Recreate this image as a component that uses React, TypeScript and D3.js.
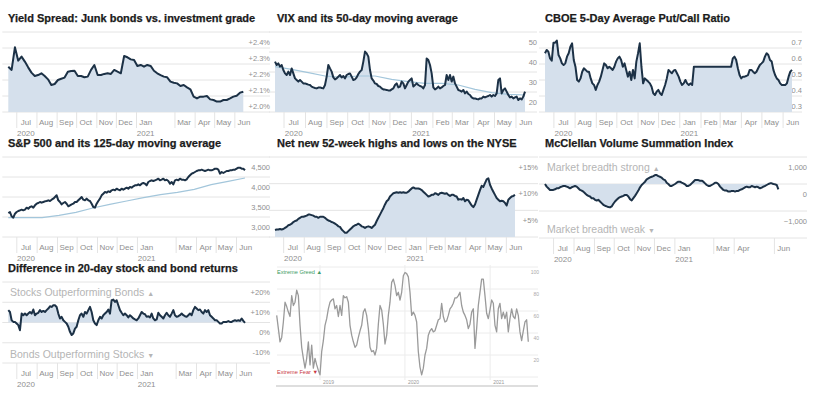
import * as d3 from 'd3';

// date span shared by the seven small indicator charts
const START = new Date(2020, 5, 18);
const END = new Date(2021, 5, 14);
const MCCLELLAN_END = new Date(2021, 5, 7);
const FG_START = new Date(2018, 5, 29);
const FG_END = new Date(2021, 5, 14);

const monthNames = ['Jul', 'Aug', 'Sep', 'Oct', 'Nov', 'Dec', 'Jan', 'Feb', 'Mar', 'Apr', 'May', 'Jun'];
const fgYears = [2019, 2020, 2021];
const fgTicks = [20, 40, 60, 80, 100];

const spreadValues = [2.183, 2.163, 2.304, 2.221, 2.246, 2.215, 2.179, 2.146, 2.125, 2.131, 2.142, 2.125, 2.104, 2.069, 2.075, 2.1, 2.108, 2.115, 2.152, 2.156, 2.158, 2.125, 2.125, 2.117, 2.121, 2.163, 2.194, 2.131, 2.131, 2.138, 2.142, 2.138, 2.163, 2.152, 2.142, 2.25, 2.242, 2.229, 2.225, 2.188, 2.194, 2.183, 2.194, 2.188, 2.158, 2.142, 2.131, 2.121, 2.117, 2.09, 2.083, 2.079, 2.063, 2.069, 2.054, 2.042, 1.996, 1.985, 1.996, 1.996, 2.0, 1.979, 1.975, 1.965, 1.965, 1.975, 1.975, 1.985, 1.996, 2.002, 2.021, 2.027];

const vixValues = [35.2, 33.5, 34.3, 32.7, 33.5, 31.0, 29.3, 28.5, 30.2, 28.5, 31.8, 29.3, 26.8, 26.0, 25.2, 26.0, 25.2, 24.3, 24.3, 24.0, 23.7, 23.5, 22.7, 22.3, 22.0, 21.8, 22.2, 22.3, 22.0, 21.8, 23.5, 27.7, 33.5, 31.8, 30.2, 27.3, 26.3, 26.8, 27.7, 28.5, 27.3, 28.0, 26.8, 28.5, 29.0, 29.3, 27.7, 26.0, 26.3, 27.3, 29.0, 30.2, 31.0, 35.2, 40.2, 39.3, 37.7, 31.0, 26.8, 25.7, 24.3, 24.0, 23.0, 22.7, 21.8, 21.3, 21.2, 21.0, 20.8, 20.7, 21.3, 21.8, 23.5, 24.3, 22.3, 22.7, 25.2, 24.3, 21.8, 23.5, 25.2, 26.0, 26.8, 22.7, 23.5, 24.3, 23.5, 23.0, 22.7, 21.8, 23.5, 36.8, 36.0, 33.5, 29.3, 22.3, 21.3, 21.8, 22.7, 21.8, 22.3, 23.0, 23.5, 28.5, 26.0, 28.5, 25.2, 27.7, 24.3, 22.7, 21.0, 20.7, 20.2, 21.0, 19.3, 20.2, 19.0, 18.5, 17.3, 16.8, 16.8, 16.5, 16.3, 16.8, 16.8, 17.7, 17.3, 17.7, 18.0, 18.5, 17.7, 18.5, 18.0, 19.3, 26.0, 26.8, 19.3, 21.0, 21.8, 20.2, 18.5, 17.3, 17.7, 16.8, 17.3, 17.7, 16.0, 16.8, 16.3, 17.7, 20.2];
const vixAverage = [32.7, 31.3, 29.7, 28.0, 27.3, 28.0, 28.0, 26.3, 25.2, 24.3, 24.3, 23.5, 21.3, 19.7, 18.8, 18.5];

const putCallValues = [0.567, 0.588, 0.577, 0.535, 0.521, 0.633, 0.633, 0.646, 0.556, 0.535, 0.504, 0.494, 0.504, 0.546, 0.567, 0.608, 0.629, 0.525, 0.483, 0.4, 0.39, 0.41, 0.452, 0.473, 0.463, 0.452, 0.452, 0.41, 0.379, 0.369, 0.338, 0.369, 0.39, 0.421, 0.463, 0.504, 0.494, 0.473, 0.483, 0.473, 0.463, 0.483, 0.515, 0.535, 0.546, 0.525, 0.483, 0.504, 0.463, 0.421, 0.452, 0.4, 0.463, 0.41, 0.515, 0.567, 0.629, 0.483, 0.379, 0.41, 0.4, 0.39, 0.379, 0.358, 0.317, 0.306, 0.327, 0.338, 0.317, 0.306, 0.338, 0.369, 0.41, 0.463, 0.452, 0.442, 0.458, 0.463, 0.442, 0.421, 0.39, 0.369, 0.379, 0.4, 0.379, 0.369, 0.379, 0.369, 0.483, 0.483, 0.483, 0.483, 0.483, 0.483, 0.483, 0.483, 0.483, 0.483, 0.483, 0.483, 0.483, 0.483, 0.483, 0.483, 0.483, 0.483, 0.483, 0.483, 0.483, 0.483, 0.483, 0.535, 0.546, 0.525, 0.473, 0.431, 0.41, 0.421, 0.421, 0.425, 0.431, 0.463, 0.463, 0.452, 0.442, 0.452, 0.473, 0.494, 0.504, 0.515, 0.546, 0.567, 0.556, 0.525, 0.515, 0.463, 0.431, 0.41, 0.4, 0.379, 0.369, 0.369, 0.369, 0.379, 0.421, 0.452, 0.463];

const spxValues = [3100, 3125, 3017, 2983, 3083, 3125, 3150, 3167, 3183, 3167, 3183, 3233, 3208, 3250, 3267, 3233, 3292, 3333, 3350, 3375, 3358, 3375, 3392, 3400, 3417, 3400, 3433, 3458, 3500, 3542, 3417, 3375, 3317, 3350, 3375, 3333, 3267, 3292, 3317, 3333, 3375, 3375, 3417, 3458, 3500, 3433, 3417, 3458, 3417, 3400, 3333, 3250, 3233, 3333, 3400, 3458, 3542, 3583, 3625, 3608, 3642, 3625, 3667, 3683, 3667, 3708, 3683, 3667, 3708, 3683, 3708, 3733, 3708, 3750, 3733, 3767, 3792, 3792, 3817, 3792, 3833, 3850, 3833, 3792, 3875, 3900, 3917, 3900, 3917, 3933, 3958, 3917, 3933, 3958, 3917, 3933, 3900, 3833, 3875, 3817, 3917, 3933, 3917, 3958, 3933, 3933, 3917, 3942, 4000, 4042, 4083, 4100, 4125, 4150, 4167, 4167, 4183, 4167, 4150, 4167, 4183, 4167, 4167, 4183, 4208, 4208, 4183, 4083, 4125, 4100, 4125, 4150, 4150, 4167, 4167, 4183, 4183, 4208, 4233, 4233, 4208, 4208, 4167];
const spxAverage = [2983, 2983, 2983, 3042, 3117, 3225, 3317, 3400, 3483, 3558, 3617, 3692, 3808, 3892, 3975];

const highLowValues = [1.3, 1.4, 1.4, 1.5, 1.4, 1.5, 1.7, 1.9, 2.2, 2.3, 2.5, 2.8, 3.0, 3.1, 3.4, 3.6, 3.8, 3.8, 3.9, 4.0, 4.2, 4.2, 4.1, 4.0, 3.8, 3.8, 3.6, 3.8, 3.8, 3.8, 3.6, 3.3, 3.1, 3.0, 2.8, 2.7, 2.5, 2.3, 2.0, 1.9, 1.4, 1.1, 0.8, 0.8, 1.1, 1.4, 1.7, 2.0, 2.2, 2.3, 2.5, 2.3, 2.0, 1.9, 1.7, 1.9, 2.0, 1.9, 1.7, 2.0, 2.3, 3.0, 3.6, 4.2, 4.8, 5.4, 6.1, 6.7, 7.0, 7.6, 7.9, 8.2, 8.3, 8.4, 8.3, 8.4, 8.3, 8.4, 8.3, 8.3, 8.5, 8.8, 9.1, 9.3, 9.1, 9.1, 9.1, 9.0, 8.8, 8.5, 8.2, 7.9, 7.6, 7.7, 7.9, 7.9, 8.2, 8.1, 7.9, 8.2, 8.3, 8.2, 8.1, 8.2, 7.9, 7.7, 7.9, 7.9, 7.7, 7.6, 7.0, 7.1, 7.0, 7.3, 6.7, 7.0, 6.9, 6.4, 5.9, 5.6, 6.1, 7.0, 7.9, 8.8, 9.6, 9.4, 10.1, 10.8, 11.0, 9.8, 9.1, 8.5, 7.9, 7.3, 7.0, 6.7, 6.8, 6.7, 6.4, 5.9, 7.0, 7.3, 7.6, 7.7, 7.9];

const mcclellanValues = [0, -98, -159, -220, -220, -220, -195, -159, -159, -122, -98, -73, -73, -98, -122, -159, -122, -98, -73, -98, -159, -220, -244, -281, -342, -403, -439, -464, -525, -525, -586, -610, -586, -647, -708, -769, -805, -830, -854, -866, -830, -732, -647, -586, -525, -488, -464, -439, -403, -403, -464, -561, -610, -525, -439, -342, -244, -122, -37, 24, 85, 171, 207, 244, 268, 293, 329, 329, 293, 268, 232, 171, 146, 49, 0, -73, -73, -37, 0, 49, 85, 85, 49, 24, -12, -73, -73, -37, 24, 85, 146, 146, 146, 122, 122, 85, 24, -37, -73, -73, -37, 0, 49, 49, 0, -98, -159, -220, -244, -244, -281, -281, -256, -256, -281, -256, -256, -220, -195, -159, -122, -98, -122, -122, -73, -98, -122, -98, -122, -159, -134, -98, -73, -37, 0, 24, 24, 0, -12, -37, -195];

const stockBondValues = [6.1, 5.2, 1.1, 0.3, 0.3, -0.5, -1.3, -3.8, 4.4, 3.6, 4.4, 3.6, 4.4, 5.2, 4.4, 6.4, 3.6, 4.4, 4.8, 6.1, 5.2, 5.7, 5.2, 6.1, 6.9, 8.0, 7.7, 8.5, 8.5, 7.7, 4.4, 2.0, 2.8, 1.1, 0.3, -0.5, -2.1, -4.6, -6.2, -5.4, -3.0, -2.1, 1.1, 3.6, 4.4, 2.8, 5.2, 4.4, 6.1, 7.7, 5.2, 1.1, -0.5, -1.3, 1.1, 2.8, 2.0, 3.6, 4.4, 5.2, 6.4, 4.4, 11.0, 11.3, 10.2, 11.0, 8.5, 6.1, 4.8, 3.6, 4.4, 3.6, 2.5, 3.6, 2.8, 2.0, 1.5, 1.1, 2.0, 3.6, 5.2, 4.4, 4.1, 2.8, 3.1, 2.5, 4.4, 2.0, 1.1, 1.5, 4.8, 3.6, 2.8, 2.0, 3.6, 4.8, 3.6, 2.8, 4.4, 6.1, 3.6, 2.8, 3.1, 3.6, 4.4, 3.6, 3.1, 2.8, 3.6, 4.4, 3.6, 6.1, 7.7, 6.9, 6.1, 6.4, 5.2, 4.4, 6.1, 5.2, 6.1, 3.6, 2.8, 2.0, 1.1, 1.1, 0.3, -0.5, -0.5, 0.3, 0.3, 0.3, 0.7, 0.3, 0.3, 0.8, 1.1, 0.8, 1.1, 0.8, 2.0, 0.8, -0.2];

const fearGreedValues = [56, 44, 32, 36, 50, 68, 64, 59, 55, 74, 65, 68, 79, 74, 47, 27, 17, 8, 17, 32, 11, 29, 8, 17, 11, 6, 2, 23, 33, 47, 53, 62, 68, 70, 71, 62, 65, 55, 65, 56, 74, 72, 73, 68, 47, 38, 32, 27, 29, 36, 42, 47, 59, 62, 56, 44, 27, 23, 24, 20, 26, 48, 65, 61, 48, 30, 38, 56, 68, 86, 89, 83, 74, 77, 70, 77, 92, 95, 94, 91, 77, 56, 59, 56, 50, 23, 9, 2, 8, 20, 26, 38, 42, 44, 41, 42, 47, 52, 53, 67, 55, 50, 51, 56, 62, 64, 67, 72, 72, 74, 77, 65, 59, 56, 52, 44, 48, 59, 62, 26, 44, 65, 77, 89, 89, 74, 58, 53, 61, 70, 67, 47, 41, 62, 67, 53, 59, 53, 59, 41, 53, 62, 55, 53, 62, 56, 41, 33, 42, 50, 52, 32];

const SANS = '"Liberation Sans", Arial, sans-serif';
const NAVY = '#1c3146';
const FILL = '#d5e0ec';
const GRID = '#e4e4e4';
const AXIS_TEXT = '#8f8f8f';

type Pt = { date: Date; value: number };

const spread = (values: number[], start: Date, end: Date): Pt[] =>
  values.map((value, i) => ({
    date: new Date(+start + ((+end - +start) * i) / (values.length - 1)),
    value,
  }));

interface Series {
  values: number[];
  color: string;
  width: number;
  end?: Date;
}

interface PanelProps {
  title: string;
  titleX: number;
  x0: number;
  x1: number;
  top: number;
  bottom: number;
  right: number;
  domain: [number, number];
  ticks: number[];
  format: (v: number) => string;
  series: Series[];
  fill: 'bottom' | 'zero' | null;
  hidden: string[];
  notes?: [string, string];
  noteX?: number;
}

const Panel = (p: PanelProps) => {
  const x = d3.scaleTime().domain([START, END]).range([p.x0, p.x1]);
  const y = d3.scaleLinear().domain(p.domain).range([p.bottom, p.top]);
  const line = d3.line<Pt>().x(d => x(d.date)).y(d => y(d.value));
  const pts = p.series.map(s => spread(s.values, START, s.end ?? END));
  const base = p.fill === 'zero' ? y(0) : p.bottom;
  const area = d3.area<Pt>().x(d => x(d.date)).y0(base).y1(d => y(d.value));

  const months = d3.timeMonth.range(new Date(2020, 6, 1), new Date(2021, 6, 1));
  const gx0 = p.x0 - 6;

  return (
    <g>
      <text x={p.titleX} y={p.top - 10} fontFamily={SANS} fontSize={11} fontWeight={700}
        fill="#1b1b1b" stroke="#1b1b1b" strokeWidth={0.25}>
        {p.title}
      </text>

      {/* grid + right labels (label sits under its line) */}
      {[...p.ticks, p.domain[0]].map(t => (
        <line key={`g${t}`} x1={gx0} x2={p.right} y1={y(t)} y2={y(t)} stroke={GRID} strokeWidth={1} />
      ))}
      {p.ticks.map(t => (
        <text key={`t${t}`} x={p.right} y={y(t) + 10} dy="0.35em" textAnchor="end"
          fontFamily={SANS} fontSize={7.5} fill={AXIS_TEXT}>
          {p.format(t)}
        </text>
      ))}

      {p.notes && (
        <g fontFamily={SANS} fontSize={10.5} fill="#b5b5b5">
          <text x={p.noteX} y={p.top + 10} dy="0.35em">
            {p.notes[0]} <tspan fontSize={7}>▲</tspan>
          </text>
          <text x={p.noteX} y={p.bottom - 9} dy="0.35em">
            {p.notes[1]} <tspan fontSize={7}>▼</tspan>
          </text>
        </g>
      )}

      {p.fill && <path d={area(pts[0]) ?? undefined} fill={FILL} stroke="none" />}
      {p.series.slice(1).map((s, i) => (
        <path key={i} d={line(pts[i + 1]) ?? undefined} fill="none" stroke={s.color} strokeWidth={s.width} />
      ))}
      <path d={line(pts[0]) ?? undefined} fill="none" stroke={p.series[0].color}
        strokeWidth={p.series[0].width} strokeLinejoin="round" />

      {/* month axis */}
      {months.map((m, i) => {
        const name = monthNames[i];
        if (p.hidden.includes(name)) return null;
        const cx = x(d3.timeDay.offset(m, 14));
        return (
          <g key={name}>
            <line x1={x(m)} x2={x(m)} y1={p.bottom} y2={p.bottom + 16} stroke={GRID} />
            <text x={cx} y={p.bottom + 10} dy="0.35em" textAnchor="middle" fontFamily={SANS}
              fontSize={8} fill={AXIS_TEXT}>{name}</text>
            {(name === 'Jul' || name === 'Jan') && (
              <text x={cx} y={p.bottom + 21} dy="0.35em" textAnchor="middle" fontFamily={SANS}
                fontSize={8} fill={AXIS_TEXT}>{m.getFullYear()}</text>
            )}
          </g>
        );
      })}
    </g>
  );
};

const FearGreed = () => {
  const x = d3.scaleTime().domain([FG_START, FG_END]).range([276.7, 528.3]);
  const y = d3.scaleLinear().domain([0, 100]).range([377, 267]);
  const pts = spread(fearGreedValues, FG_START, FG_END);
  const line = d3.line<Pt>().x(d => x(d.date)).y(d => y(d.value));
  return (
    <g fontFamily={SANS}>
      {[0, ...fgTicks].map(t => (
        <line key={t} x1={277} x2={538} y1={y(t)} y2={y(t)} stroke="#ececec" />
      ))}
      {fgTicks.map(t => (
        <text key={t} x={539} y={y(t) + 5} dy="0.35em" textAnchor="end" fontSize={5} fill="#aaa">{t}</text>
      ))}
      {fgYears.map(yr => {
        const xx = x(new Date(yr, 0, 1));
        return (
          <g key={yr}>
            <line x1={xx} x2={xx} y1={265} y2={380} stroke="#ececec" />
            <text x={xx + 3} y={382.5} dy="0.35em" fontSize={5} fill="#999">{yr}</text>
          </g>
        );
      })}
      <line x1={276} x2={538} y1={386} y2={386} stroke="#bdbdbd" />
      <text x={277} y={272} dy="0.35em" fontSize={5.6} fill="#3d9b62">Extreme Greed ▲</text>
      <text x={277} y={372} dy="0.35em" fontSize={5.6} fill="#c9383f">Extreme Fear ▼</text>
      <path d={line(pts) ?? undefined} fill="none" stroke="#9a9a9a" strokeWidth={1.3} strokeLinejoin="round" />
    </g>
  );
};

const pct1 = (v: number) => `+${v.toFixed(1)}%`;
const comma = d3.format(',');
const signedPct = (v: number) => (v > 0 ? `+${v}%` : `${v}%`);

export default function App() {
  return (
    <svg width={824} height={399} style={{ position: 'absolute', left: 0, top: 0, background: '#fff' }}>
      <Panel title="Yield Spread: Junk bonds vs. investment grade" titleX={8}
        x0={8.3} x1={243.3} top={32} bottom={112} right={270}
        domain={[1.9, 2.4]} ticks={[2.0, 2.1, 2.2, 2.3, 2.4]} format={pct1}
        series={[{ values: spreadValues, color: NAVY, width: 2 }]} fill="bottom" hidden={['Feb']} />
      <Panel title="VIX and its 50-day moving average" titleX={277}
        x0={275} x1={525} top={32} bottom={112} right={537}
        domain={[10, 50]} ticks={[20, 30, 40, 50]} format={v => `${v}`}
        series={[{ values: vixValues, color: NAVY, width: 2 }, { values: vixAverage, color: '#a3c6db', width: 1.2 }]}
        fill="bottom" hidden={[]} />
      <Panel title="CBOE 5-Day Average Put/Call Ratio" titleX={545}
        x0={545} x1={792} top={32} bottom={112} right={802}
        domain={[0.2, 0.7]} ticks={[0.3, 0.4, 0.5, 0.6, 0.7]} format={v => v.toFixed(1)}
        series={[{ values: putCallValues, color: NAVY, width: 2 }]} fill="bottom" hidden={[]} />

      <Panel title="S&P 500 and its 125-day moving average" titleX={8}
        x0={8.3} x1={245} top={157} bottom={237} right={270}
        domain={[2500, 4500]} ticks={[3000, 3500, 4000, 4500]} format={v => comma(v)}
        series={[{ values: spxValues, color: NAVY, width: 2 }, { values: spxAverage, color: '#a3c6db', width: 1.2 }]}
        fill={null} hidden={['Feb']} />
      <Panel title="Net new 52-week highs and lows on the NYSE" titleX={277}
        x0={275} x1={515} top={157} bottom={237} right={538}
        domain={[0, 15]} ticks={[5, 10, 15]} format={v => `+${v}%`}
        series={[{ values: highLowValues, color: NAVY, width: 2 }]} fill="bottom" hidden={[]} />
      <Panel title="McClellan Volume Summation Index" titleX={545}
        x0={545} x1={783} top={157} bottom={238} right={807}
        domain={[-2000, 1000]} ticks={[-1000, 0, 1000]} format={v => comma(v)}
        series={[{ values: mcclellanValues, color: NAVY, width: 2, end: MCCLELLAN_END }]} fill="zero"
        hidden={['Feb', 'May']} notes={['Market breadth strong', 'Market breadth weak']} noteX={547} />

      <Panel title="Difference in 20-day stock and bond returns" titleX={8}
        x0={8.3} x1={245} top={282} bottom={363} right={270}
        domain={[-20, 20]} ticks={[-10, 0, 10, 20]} format={signedPct}
        series={[{ values: stockBondValues, color: NAVY, width: 2 }]} fill="zero" hidden={['Feb']}
        notes={['Stocks Outperforming Bonds', 'Bonds Outperforming Stocks']} noteX={10} />
      <FearGreed />
    </svg>
  );
}
